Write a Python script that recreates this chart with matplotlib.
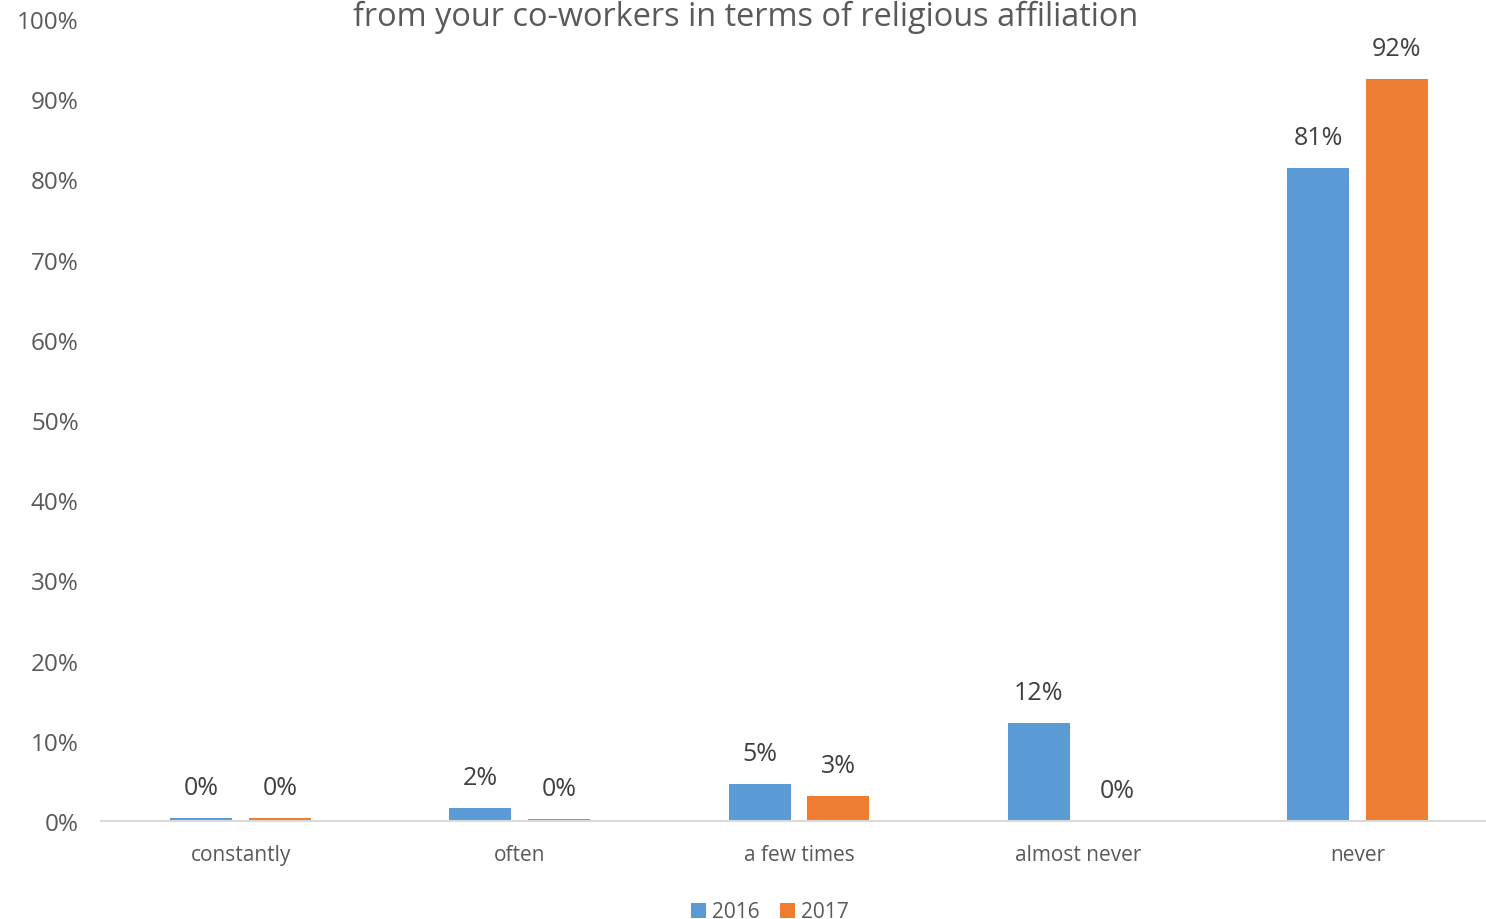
import numpy as np
import matplotlib
matplotlib.use('Agg')
import matplotlib.pyplot as plt

# data
categories = ['constantly', 'often', 'a few times', 'almost never', 'never']
vals_2016 = [0.4, 1.6, 4.6, 12.2, 81.4]
vals_2017 = [0.4, 0.2, 3.1, 0.0, 92.5]
labels_2016 = ['0%', '2%', '5%', '12%', '81%']
labels_2017 = ['0%', '0%', '3%', '0%', '92%']
yticks = np.arange(0, 101, 10)

plt.rcParams['font.family'] = ['Open Sans', 'DejaVu Sans']

blue = '#5B9BD5'
orange = '#ED7D31'
txt = '#595959'

fig = plt.figure(figsize=(14.86, 9.2), dpi=100)
ax = fig.add_axes([101/1486, 1 - 822/920, 1396/1486, (822 - 20)/920])

x = np.arange(len(categories))
w = 0.222
off = 0.141
b1 = ax.bar(x - off, vals_2016, w, color=blue, label='2016')
b2 = ax.bar(x + off, vals_2017, w, color=orange, label='2017')

# value labels above bars
for bars, labs in [(b1, labels_2016), (b2, labels_2017)]:
    for rect, lab in zip(bars, labs):
        ax.annotate(lab, (rect.get_x() + rect.get_width()/2, rect.get_height()),
                    xytext=(0, 13), textcoords='offset points',
                    ha='center', va='bottom', fontsize=18, color='#404040')

ax.set_xlim(-0.5, 4.5)
ax.set_ylim(0, 100)
ax.set_yticks(yticks)
ax.set_yticklabels([f'{t}%' for t in yticks], fontsize=17.5, color=txt)
ax.set_xticks(x)
ax.set_xticklabels(categories, fontsize=15, color=txt)
ax.tick_params(axis='both', length=0)
ax.tick_params(axis='y', pad=16)
ax.tick_params(axis='x', pad=16.5)

for s in ['top', 'right', 'left']:
    ax.spines[s].set_visible(False)
ax.spines['bottom'].set_color('#d9d9d9')
ax.spines['bottom'].set_linewidth(1.5)

fig.text(746/1486, 1 - 26/920, 'from your co-workers in terms of religious affiliation',
         ha='center', va='baseline', fontsize=23.4, color=txt)

fig.legend(loc='center', bbox_to_anchor=(770/1486, 1 - 913/920), ncol=2,
           frameon=False, fontsize=15, handlelength=0.7, handleheight=0.7,
           handletextpad=0.3, columnspacing=1.0, labelcolor=txt)

fig.savefig('out.png', dpi=100)
